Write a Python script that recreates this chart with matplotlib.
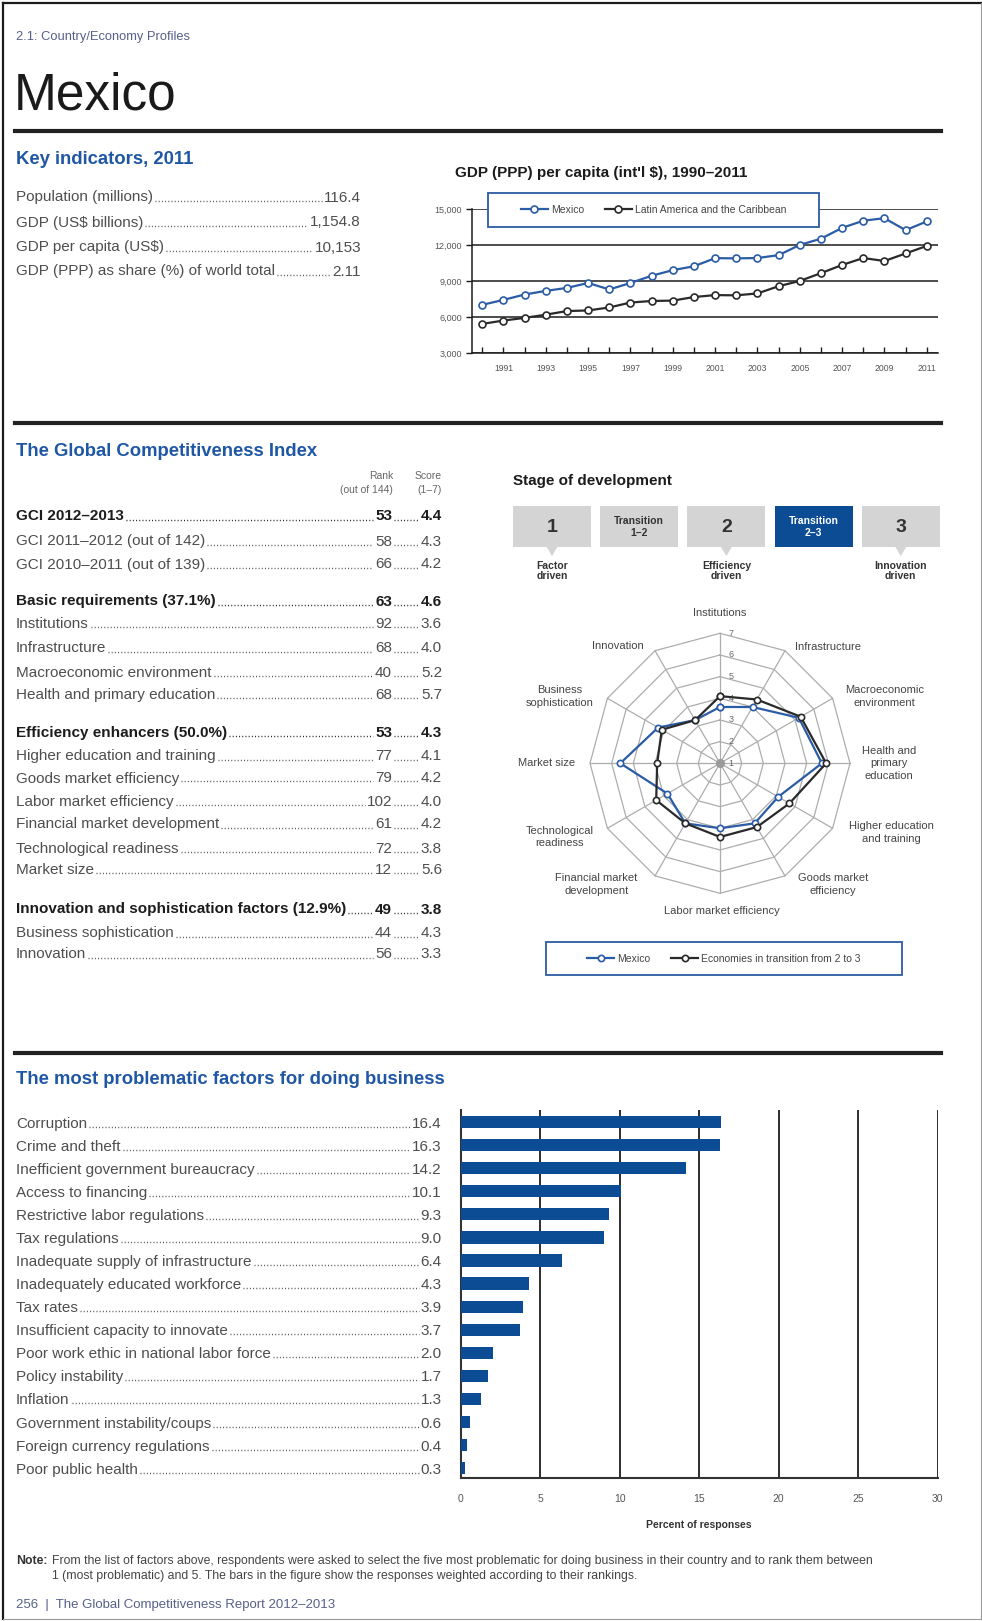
import numpy as np
import matplotlib
matplotlib.use("Agg")
import matplotlib.pyplot as plt
from matplotlib import font_manager as fm
from matplotlib.lines import Line2D
from matplotlib.patches import Rectangle, Polygon

W, H = 982, 1621
BAR_BLUE = "#0b4c95"
LINE_BLUE = "#2b5ca5"
TITLE_BLUE = "#1f57a5"
TXT = "#4e4e4e"
DARK = "#1c1c1c"
GREY_BOX = "#d4d4d4"

plt.rcParams['font.family'] = ['Liberation Sans', 'DejaVu Sans']
_names = {f.name for f in fm.fontManager.ttflist}
NARROW = 'Liberation Sans Narrow' in _names

#=== Data ===
key_labels = ["Population (millions)", "GDP (US$ billions)", "GDP per capita (US$)",
              "GDP (PPP) as share (%) of world total"]
key_values = ["116.4", "1,154.8", "10,153", "2.11"]

years = list(range(1990, 2012))
gdp_mexico = [7040, 7450, 7900, 8200, 8450, 8860, 8320, 8860, 9460, 9930, 10250, 10930,
              10910, 10940, 11180, 12030, 12550, 13450, 14050, 14260, 13260, 13990]
gdp_latam = [5450, 5730, 5950, 6220, 6520, 6570, 6820, 7230, 7360, 7390, 7690, 7850,
             7830, 7990, 8590, 9030, 9680, 10360, 10940, 10690, 11320, 11950]

gci_labels = ["GCI 2012–2013", "GCI 2011–2012 (out of 142)", "GCI 2010–2011 (out of 139)",
              "Basic requirements (37.1%)", "Institutions", "Infrastructure",
              "Macroeconomic environment", "Health and primary education",
              "Efficiency enhancers (50.0%)", "Higher education and training",
              "Goods market efficiency", "Labor market efficiency",
              "Financial market development", "Technological readiness", "Market size",
              "Innovation and sophistication factors (12.9%)", "Business sophistication",
              "Innovation"]
gci_rank = [53, 58, 66, 63, 92, 68, 40, 68, 53, 77, 79, 102, 61, 72, 12, 49, 44, 56]
gci_score = [4.4, 4.3, 4.2, 4.6, 3.6, 4.0, 5.2, 5.7, 4.3, 4.1, 4.2, 4.0, 4.2, 3.8, 5.6,
             3.8, 4.3, 3.3]
gci_bold = [True, False, False, True, False, False, False, False, True, False, False,
            False, False, False, False, True, False, False]

stages = ["1", "Transition\n1–2", "2", "Transition\n2–3", "3"]
stage_notes = ["Factor\ndriven", "", "Efficiency\ndriven", "", "Innovation\ndriven"]
current_stage = 3

pillars = ["Institutions", "Infrastructure", "Macroeconomic\nenvironment",
           "Health and\nprimary\neducation", "Higher education\nand training",
           "Goods market\nefficiency", "Labor market efficiency",
           "Financial market\ndevelopment", "Technological\nreadiness", "Market size",
           "Business\nsophistication", "Innovation"]
mexico_pillars = [3.6, 4.0, 5.2, 5.7, 4.1, 4.2, 4.0, 4.2, 3.8, 5.6, 4.3, 3.3]
transition_pillars = [4.1, 4.4, 5.3, 5.9, 4.7, 4.4, 4.4, 4.2, 4.4, 3.9, 4.1, 3.3]

factors = ["Corruption", "Crime and theft", "Inefficient government bureaucracy",
           "Access to financing", "Restrictive labor regulations", "Tax regulations",
           "Inadequate supply of infrastructure", "Inadequately educated workforce",
           "Tax rates", "Insufficient capacity to innovate",
           "Poor work ethic in national labor force", "Policy instability", "Inflation",
           "Government instability/coups", "Foreign currency regulations",
           "Poor public health"]
factor_values = [16.4, 16.3, 14.2, 10.1, 9.3, 9.0, 6.4, 4.3, 3.9, 3.7, 2.0, 1.7, 1.3,
                 0.6, 0.4, 0.3]

#=== Layout (pixel positions, top-left origin) ===
key_rows_y = [196, 221, 246, 270]
gci_rows_y = [515, 540, 563, 600, 623, 647, 671, 693, 731, 755, 777, 800, 823, 847, 869,
              908, 932, 953]
# centres of the radar axis labels, in radar units (1 unit = one score step)
pillar_label_xy = [(0, 6.95), (5.0, 5.35), (7.6, 3.1), (7.8, 0), (7.9, -3.2), (5.2, -5.6),
                   (0.1, -6.8), (-5.7, -5.6), (-7.4, -3.4), (-8.0, 0), (-7.4, 3.1),
                   (-4.7, 5.4)]
BODY = 11

fig = plt.figure(figsize=(W / 100, H / 100), dpi=100, facecolor="white")
renderer = fig.canvas.get_renderer()


def fx(x):
    return x / W


def fy(y):
    return 1 - y / H


def ftext(x, y, s, **kw):
    kw.setdefault("va", "baseline")
    return fig.text(fx(x), fy(y), s, **kw)


def fline(xs, ys, **kw):
    fig.add_artist(Line2D([fx(v) for v in xs], [fy(v) for v in ys],
                          transform=fig.transFigure, **kw))


def leader_row(yc, label, cols, x0=16, size=BODY, weight="normal", color=TXT):
    yb = yc + 0.36 * size * 100 / 72
    t = ftext(x0, yb, label, ha="left", fontsize=size, fontweight=weight, color=color)
    end = t.get_window_extent(renderer).x1
    for rx, s in cols:
        v = ftext(rx, yb, s, ha="right", fontsize=size, fontweight=weight, color=color)
        start = v.get_window_extent(renderer).x0
        if start - end > 6:
            fline([end + 2, start - 2], [yb - 1, yb - 1], lw=1.0, color=color,
                  ls=(0, (0.7, 1.6)))
        end = v.get_window_extent(renderer).x1


#=== Page frame and rules ===
fline([3, 981], [3, 3], lw=1.6, color=DARK)
fline([3, 3], [3, 1619], lw=1.6, color=DARK)
fline([980.5, 980.5], [3, 1619], lw=0.8, color="#9a9a9a")
fline([3, 981], [1619, 1619], lw=0.8, color="#9a9a9a")
for ry in [131, 422.5, 1052.5]:
    fline([15, 941], [ry, ry], lw=3.0, color="#222222")

ftext(16, 40, "2.1: Country/Economy Profiles", fontsize=9.3, color="#56618a")
ftext(14, 109.5, "Mexico", fontsize=45 if NARROW else 37, color="#1a1a1a",
      family=["Liberation Sans Narrow", "Liberation Sans"] if NARROW else None)

#=== Key indicators ===
ftext(16, 164, "Key indicators, 2011", fontsize=13.3, fontweight="bold", color=TITLE_BLUE)
for yc, lab, val in zip(key_rows_y, key_labels, key_values):
    leader_row(yc, lab, [(361, val)])

#=== GDP line chart ===
ftext(455, 177, "GDP (PPP) per capita (int'l $), 1990–2011", fontsize=11,
      fontweight="bold", color=DARK)
lax = fig.add_axes([fx(471.7), fy(353.3), (938 - 471.7) / W, (353.3 - 209.3) / H])
l1, = lax.plot(years, gdp_mexico, color=LINE_BLUE, lw=1.6, marker="o", ms=5, mfc="white",
               mew=1.2, label="Mexico", zorder=3, clip_on=False)
l2, = lax.plot(years, gdp_latam, color="#2a2a2a", lw=1.6, marker="o", ms=5, mfc="white",
               mew=1.2, label="Latin America and the Caribbean", zorder=3, clip_on=False)
lax.set_xlim(1989.5, 2011.53)
lax.set_ylim(3000, 15000)
yt = [3000, 6000, 9000, 12000, 15000]
lax.set_yticks(yt)
lax.set_yticklabels([f"{v:,}" for v in yt])
lax.set_xticks(years)
lax.set_xticklabels([str(y) if y % 2 else "" for y in years])
lax.yaxis.grid(True, color=DARK, lw=1.1)
lax.set_axisbelow(True)
for s in ["top", "right"]:
    lax.spines[s].set_visible(False)
for s in ["left", "bottom"]:
    lax.spines[s].set_color(DARK)
    lax.spines[s].set_linewidth(1.1)
lax.tick_params(axis="x", direction="in", length=4, width=1, pad=8, labelsize=6.2,
                color=DARK, labelcolor="#555555")
lax.tick_params(axis="y", direction="out", length=4, width=1, pad=3, labelsize=6.5,
                color=DARK, labelcolor="#555555")
fig.add_artist(Rectangle((fx(488), fy(227)), (819 - 488) / W, 34 / H,
                         transform=fig.transFigure, fc="white", ec=LINE_BLUE, lw=1.3,
                         zorder=1))
fig.legend([l1, l2], [l1.get_label(), l2.get_label()], loc="center",
           bbox_to_anchor=(fx(653.5), fy(210)), ncol=2, frameon=False, fontsize=7.5,
           handlelength=2.6, handletextpad=0.3, columnspacing=2.0, labelcolor="#444444")

#=== Global Competitiveness Index table ===
ftext(16, 456, "The Global Competitiveness Index", fontsize=13.3, fontweight="bold",
      color=TITLE_BLUE)
ftext(393, 479, "Rank", ha="right", fontsize=7.5, color="#666666")
ftext(393, 493, "(out of 144)", ha="right", fontsize=7.5, color="#666666")
ftext(442, 479, "Score", ha="right", fontsize=7.5, color="#666666")
ftext(442, 493, "(1–7)", ha="right", fontsize=7.5, color="#666666")
for yc, lab, rk, sc, b in zip(gci_rows_y, gci_labels, gci_rank, gci_score, gci_bold):
    leader_row(yc, lab, [(392, str(rk)), (442, f"{sc:.1f}")],
               weight="bold" if b else "normal", color=DARK if b else TXT)

#=== Stage of development ===
ftext(513, 485, "Stage of development", fontsize=11, fontweight="bold", color=DARK)
for i, (s, note) in enumerate(zip(stages, stage_notes)):
    x0 = 513 + i * 87.2
    cx = x0 + 39
    on = i == current_stage
    fig.add_artist(Rectangle((fx(x0), fy(547)), 78 / W, 41 / H, transform=fig.transFigure,
                             fc=BAR_BLUE if on else GREY_BOX, ec="none"))
    big = "\n" not in s
    ftext(cx, 527, s, ha="center", va="center", fontsize=14 if big else 7.5,
          fontweight="bold", color="white" if on else "#333333", linespacing=1.15)
    if note:
        fig.add_artist(Polygon([[fx(cx - 6), fy(546)], [fx(cx + 6), fy(546)],
                                [fx(cx), fy(556)]], closed=True,
                               transform=fig.transFigure, fc=GREY_BOX, ec="none"))
        ftext(cx, 571, note, ha="center", va="center", fontsize=7.5, fontweight="bold",
              color="#333333", linespacing=1.05)

#=== Radar chart ===
unit = 130 / 6
half = 200 / unit
rax = fig.add_axes([fx(520), fy(963.3), 400 / W, 400 / H])
rax.set_xlim(-half, half)
rax.set_ylim(-half, half)
rax.set_aspect("equal")
rax.axis("off")
n = len(pillars)
ang = np.arange(n) * 2 * np.pi / n


def radar_xy(vals):
    r = np.asarray(vals, dtype=float) - 1
    return np.append(r * np.sin(ang), r[0] * np.sin(ang[0])), \
        np.append(r * np.cos(ang), r[0] * np.cos(ang[0]))


for lvl in range(2, 8):
    gx, gy = radar_xy([lvl] * n)
    rax.plot(gx, gy, color="#adadad", lw=0.9, zorder=1)
for a in ang:
    rax.plot([0, 6 * np.sin(a)], [0, 6 * np.cos(a)], color="#adadad", lw=0.9, zorder=1)
for lvl in range(1, 8):
    rax.text(0.4, lvl - 1, str(lvl), fontsize=6.5, color="#666666", ha="left", va="center",
             zorder=2)
rax.scatter([0], [0], s=30, color="#9a9a9a", zorder=2)
mx, my = radar_xy(mexico_pillars)
tx, ty = radar_xy(transition_pillars)
r1, = rax.plot(mx, my, color=LINE_BLUE, lw=1.6, marker="o", ms=4.5, mfc="white", mew=1.2,
               label="Mexico", zorder=3)
r2, = rax.plot(tx, ty, color="#2a2a2a", lw=1.6, marker="o", ms=4.5, mfc="white", mew=1.2,
               label="Economies in transition from 2 to 3", zorder=4)
for (lx, ly), lab in zip(pillar_label_xy, pillars):
    rax.text(lx, ly, lab, fontsize=8, color="#444444", ha="center", va="center",
             multialignment="center", linespacing=1.35)
fig.add_artist(Rectangle((fx(546), fy(975)), (902 - 546) / W, 33 / H,
                         transform=fig.transFigure, fc="white", ec=LINE_BLUE, lw=1.3,
                         zorder=1))
fig.legend([r1, r2], [r1.get_label(), r2.get_label()], loc="center",
           bbox_to_anchor=(fx(724), fy(958.5)), ncol=2, frameon=False, fontsize=7.5,
           handlelength=2.6, handletextpad=0.3, columnspacing=2.0, labelcolor="#444444")

#=== Most problematic factors ===
ftext(16, 1084, "The most problematic factors for doing business", fontsize=13.3,
      fontweight="bold", color=TITLE_BLUE)
bax = fig.add_axes([fx(460.7), fy(1477.7), (937.7 - 460.7) / W, (1477.7 - 1110) / H])
rows = np.arange(len(factors))
bax.barh(rows, factor_values, height=0.53, color=BAR_BLUE, zorder=3)
bax.set_xlim(0, 30)
bax.set_ylim(len(factors) - 0.59, -0.52)
bax.set_xticks(range(0, 31, 5))
bax.set_yticks([])
bax.xaxis.grid(True, color=DARK, lw=1.3)
bax.set_axisbelow(True)
for s in ["top", "right"]:
    bax.spines[s].set_visible(False)
for s in ["left", "bottom"]:
    bax.spines[s].set_color("#333333")
    bax.spines[s].set_linewidth(1.5)
bax.tick_params(axis="x", length=0, pad=12, labelsize=7.5, labelcolor="#555555")
bax.set_xlabel("Percent of responses", fontsize=7.5, fontweight="bold", color="#333333",
               labelpad=11)
for i, lab, val in zip(rows, factors, factor_values):
    yc = H - bax.transData.transform((0, i))[1]
    leader_row(yc, lab, [(441.7, f"{val:.1f}")])

#=== Note and footer ===
ftext(16, 1564, "Note:", fontsize=8.8, fontweight="bold", color="#333333")
ftext(52, 1564, "From the list of factors above, respondents were asked to select the five "
      "most problematic for doing business in their country and to rank them between",
      fontsize=8.8, color="#444444")
ftext(52, 1579, "1 (most problematic) and 5. The bars in the figure show the responses "
      "weighted according to their rankings.", fontsize=8.8, color="#444444")
ftext(16, 1608, "256  |  The Global Competitiveness Report 2012–2013", fontsize=9.5,
      color="#56618a")

fig.savefig("out.png", dpi=100, facecolor="white")
